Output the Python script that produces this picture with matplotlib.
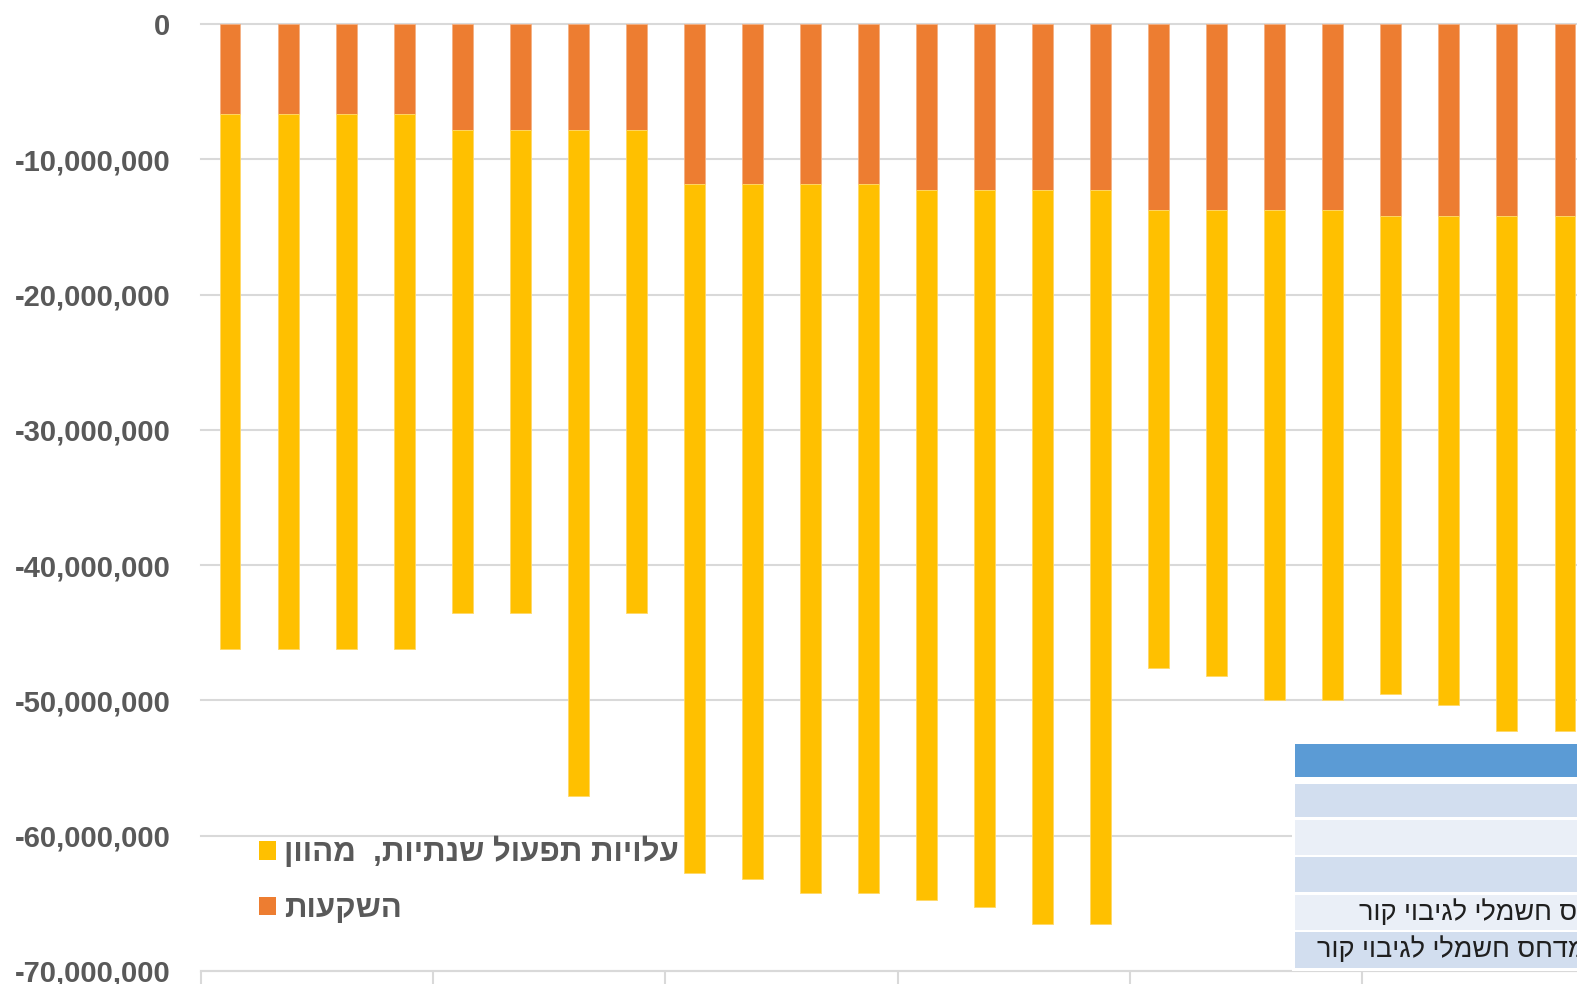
import matplotlib
matplotlib.use("Agg")
import matplotlib.pyplot as plt
import numpy as np
from matplotlib.patches import Patch, Rectangle

# investments (top segment) and discounted annual operating costs, in millions
investment = [6.65, 6.65, 6.65, 6.65, 7.83, 7.83, 7.83, 7.83,
              11.83, 11.83, 11.83, 11.83, 12.27, 12.27, 12.27, 12.27,
              13.75, 13.75, 13.75, 13.75, 14.19, 14.19, 14.19, 14.19]
operating = [39.55, 39.55, 39.55, 39.55, 35.73, 35.73, 49.20, 35.73,
             50.94, 51.34, 52.42, 52.42, 52.47, 52.97, 54.27, 54.27,
             33.82, 34.44, 36.24, 36.24, 35.35, 36.12, 38.09, 38.09]
y_ticks = [0, -10e6, -20e6, -30e6, -40e6, -50e6, -60e6, -70e6]
label_operating = "עלויות תפעול שנתיות,  מהוון"
label_investment = "השקעות"
table_rows = ["", "", "", "", "מדחס חשמלי לגיבוי קור", "מדחס חשמלי לגיבוי קור"]

ORANGE = "#ED7D31"
YELLOW = "#FFC000"
GRID = "#D9D9D9"
TEXT = "#595959"
HEB = ["Liberation Sans", "DejaVu Sans"]


def rtl(s):
    # matplotlib lays glyphs out left to right, so flip Hebrew for display
    return s[::-1]


W, H = 1577, 984
fig = plt.figure(figsize=(W / 100, H / 100), dpi=100)
fig.patch.set_facecolor("white")


def fx(px):
    return px / W


def fy(py):
    return 1 - py / H


# axes runs past the right edge of the figure
ax = fig.add_axes([fx(201), fy(971), (1594 - 201) / W, (971 - 24) / H])

x = np.arange(len(investment))
inv = -np.array(investment) * 1e6
op = -np.array(operating) * 1e6
ax.bar(x, inv, width=0.36, color=ORANGE, edgecolor="#F4B183", linewidth=0.6, zorder=3)
ax.bar(x, op, bottom=inv, width=0.36, color=YELLOW, edgecolor="#FFD966", linewidth=0.6, zorder=3)

ax.set_xlim(-0.5, len(x) - 0.5)
ax.set_ylim(-70e6, 0)
ax.set_yticks(y_ticks)
ax.set_yticklabels([f"{v:,.0f}" for v in y_ticks], fontsize=21, fontweight="bold",
                   color=TEXT, family="Liberation Sans")
ax.tick_params(axis="y", length=0, pad=22)
ax.yaxis.grid(True, color=GRID, linewidth=1.5, zorder=0)
for gl in ax.get_ygridlines():
    gl.set_clip_on(False)

# group separators on the category axis
ax.set_xticks(np.arange(-0.5, len(x), 4))
ax.set_xticklabels([])
ax.tick_params(axis="x", length=20, width=1.5, color=GRID, direction="out")

for side in ["top", "right", "left"]:
    ax.spines[side].set_visible(False)
ax.spines["bottom"].set_color(GRID)
ax.spines["bottom"].set_linewidth(1.5)

handles = [Patch(facecolor=YELLOW, label=rtl(label_operating)),
           Patch(facecolor=ORANGE, label=rtl(label_investment))]
leg = ax.legend(handles=handles, loc="upper left", bbox_to_anchor=(fx(259), fy(837)),
                bbox_transform=fig.transFigure, frameon=False, borderpad=0, borderaxespad=0,
                handlelength=0.55, handleheight=0.55, handletextpad=0.25,
                labelspacing=0.82, prop={"family": HEB, "weight": "bold", "size": 22.5})
for t in leg.get_texts():
    t.set_color(TEXT)

# table sitting over the lower right of the plot
fig.add_artist(Rectangle((fx(1292), fy(971)), fx(W - 1292), (971 - 741) / H,
                         transform=fig.transFigure, facecolor="white", edgecolor="none", zorder=5))
rows = [(744, 777, "#5B9BD5"), (784, 817, "#D2DEEF"), (820, 855, "#EAEFF7"),
        (857, 892, "#D2DEEF"), (895, 930, "#EAEFF7"), (932, 968, "#D2DEEF")]
text_left = [None, None, None, None, 1359, 1317]
for (top, bot, col), txt, left in zip(rows, table_rows, text_left):
    fig.add_artist(Rectangle((fx(1295), fy(bot)), fx(W - 1295 + 10), (bot - top) / H,
                             transform=fig.transFigure, facecolor=col, edgecolor="none", zorder=6))
    if txt:
        fig.text(fx(left), fy((top + bot) / 2), rtl(txt), ha="left", va="center",
                 fontsize=19.5, color="#1F1F1F", family=HEB, zorder=7)

fig.savefig("out.png", dpi=100, facecolor="white")
